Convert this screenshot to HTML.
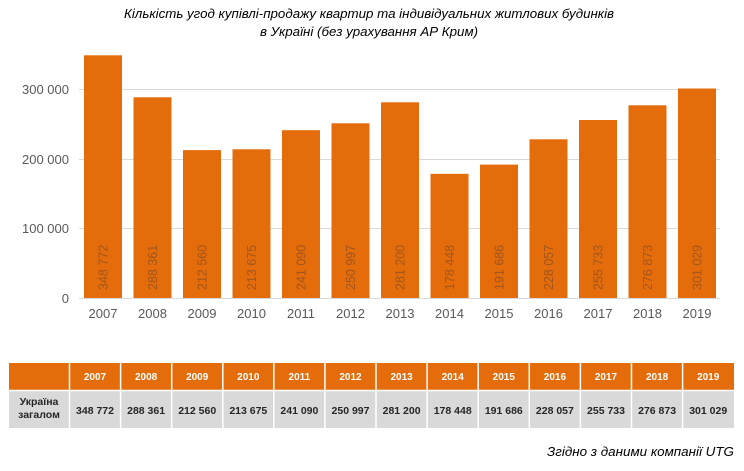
<!DOCTYPE html>
<html><head><meta charset="utf-8"><style>
html,body{margin:0;padding:0;background:#fff;width:744px;height:471px;overflow:hidden}
svg{display:block}
</style></head><body>
<svg width="744" height="471" xmlns="http://www.w3.org/2000/svg" font-family="Liberation Sans, Arial, sans-serif">
<g font-style="italic" font-size="13" fill="#000" text-anchor="middle">
<text x="369" y="18" textLength="490" lengthAdjust="spacingAndGlyphs">Кількість угод купівлі-продажу квартир та індивідуальних житлових будинків</text>
<text x="369" y="36" textLength="218" lengthAdjust="spacingAndGlyphs">в Україні (без урахування АР Крим)</text>
</g>
<g stroke="#d9d9d9" stroke-width="1">
<line x1="79" y1="89.5" x2="720" y2="89.5"/>
<line x1="79" y1="159.5" x2="720" y2="159.5"/>
<line x1="79" y1="228.5" x2="720" y2="228.5"/>
<line x1="79" y1="298.5" x2="720" y2="298.5"/>
</g>
<g font-size="13" fill="#595959" text-anchor="end">
<text x="69" y="94">300 000</text>
<text x="69" y="164">200 000</text>
<text x="69" y="233">100 000</text>
<text x="69" y="303">0</text>
</g>
<g fill="#e46c0a">
<rect x="84" y="55.3" width="38" height="242.7"/>
<rect x="133.5" y="97.3" width="38" height="200.7"/>
<rect x="183" y="150.1" width="38" height="147.9"/>
<rect x="232.5" y="149.3" width="38" height="148.7"/>
<rect x="282" y="130.2" width="38" height="167.8"/>
<rect x="331.5" y="123.3" width="38" height="174.7"/>
<rect x="381" y="102.3" width="38" height="195.7"/>
<rect x="430.5" y="173.8" width="38" height="124.2"/>
<rect x="480" y="164.6" width="38" height="133.4"/>
<rect x="529.5" y="139.3" width="38" height="158.7"/>
<rect x="579" y="120" width="38" height="178"/>
<rect x="628.5" y="105.3" width="38" height="192.7"/>
<rect x="678" y="88.5" width="38" height="209.5"/>
</g>
<g font-size="12.5" fill="#a0561e">
<text transform="translate(107.5,290) rotate(-90)">348 772</text>
<text transform="translate(157,290) rotate(-90)">288 361</text>
<text transform="translate(206.5,290) rotate(-90)">212 560</text>
<text transform="translate(256,290) rotate(-90)">213 675</text>
<text transform="translate(305.5,290) rotate(-90)">241 090</text>
<text transform="translate(355,290) rotate(-90)">250 997</text>
<text transform="translate(404.5,290) rotate(-90)">281 200</text>
<text transform="translate(454,290) rotate(-90)">178 448</text>
<text transform="translate(503.5,290) rotate(-90)">191 686</text>
<text transform="translate(553,290) rotate(-90)">228 057</text>
<text transform="translate(602.5,290) rotate(-90)">255 733</text>
<text transform="translate(652,290) rotate(-90)">276 873</text>
<text transform="translate(701.5,290) rotate(-90)">301 029</text>
</g>
<g font-size="13" fill="#595959" text-anchor="middle">
<text x="103" y="318">2007</text><text x="152.5" y="318">2008</text><text x="202" y="318">2009</text>
<text x="251.5" y="318">2010</text><text x="301" y="318">2011</text><text x="350.5" y="318">2012</text>
<text x="400" y="318">2013</text><text x="449.5" y="318">2014</text><text x="499" y="318">2015</text>
<text x="548.5" y="318">2016</text><text x="598" y="318">2017</text><text x="647.5" y="318">2018</text>
<text x="697" y="318">2019</text>
</g>
<!-- table -->
<rect x="9" y="363" width="725" height="27" fill="#e46c0a"/>
<rect x="9" y="391" width="725" height="37" fill="#d9d9d9"/>
<g stroke="#fff" stroke-width="1.5">
<line x1="69.5" y1="363" x2="69.5" y2="428"/>
<line x1="120.6" y1="363" x2="120.6" y2="428"/><line x1="171.7" y1="363" x2="171.7" y2="428"/>
<line x1="222.8" y1="363" x2="222.8" y2="428"/><line x1="273.8" y1="363" x2="273.8" y2="428"/>
<line x1="324.9" y1="363" x2="324.9" y2="428"/><line x1="376" y1="363" x2="376" y2="428"/>
<line x1="427.1" y1="363" x2="427.1" y2="428"/><line x1="478.2" y1="363" x2="478.2" y2="428"/>
<line x1="529.3" y1="363" x2="529.3" y2="428"/><line x1="580.4" y1="363" x2="580.4" y2="428"/>
<line x1="631.5" y1="363" x2="631.5" y2="428"/><line x1="682.6" y1="363" x2="682.6" y2="428"/>
<line x1="9" y1="390.5" x2="734" y2="390.5"/>
</g>
<g font-size="10" font-weight="bold" fill="#fff" text-anchor="middle">
<text x="95" y="380">2007</text><text x="146.1" y="380">2008</text><text x="197.2" y="380">2009</text>
<text x="248.3" y="380">2010</text><text x="299.4" y="380">2011</text><text x="350.5" y="380">2012</text>
<text x="401.6" y="380">2013</text><text x="452.7" y="380">2014</text><text x="503.8" y="380">2015</text>
<text x="554.9" y="380">2016</text><text x="606" y="380">2017</text><text x="657.1" y="380">2018</text>
<text x="708.2" y="380">2019</text>
</g>
<g font-size="10.5" font-weight="bold" fill="#262626" text-anchor="middle">
<text x="39" y="405">Україна</text><text x="39" y="418">загалом</text>
<text x="95" y="414">348 772</text><text x="146.1" y="414">288 361</text><text x="197.2" y="414">212 560</text>
<text x="248.3" y="414">213 675</text><text x="299.4" y="414">241 090</text><text x="350.5" y="414">250 997</text>
<text x="401.6" y="414">281 200</text><text x="452.7" y="414">178 448</text><text x="503.8" y="414">191 686</text>
<text x="554.9" y="414">228 057</text><text x="606" y="414">255 733</text><text x="657.1" y="414">276 873</text>
<text x="708.2" y="414">301 029</text>
</g>
<text x="734" y="456" font-size="13" font-style="italic" fill="#000" text-anchor="end" textLength="187" lengthAdjust="spacingAndGlyphs">Згідно з даними компанії UTG</text>
</svg>
</body></html>
